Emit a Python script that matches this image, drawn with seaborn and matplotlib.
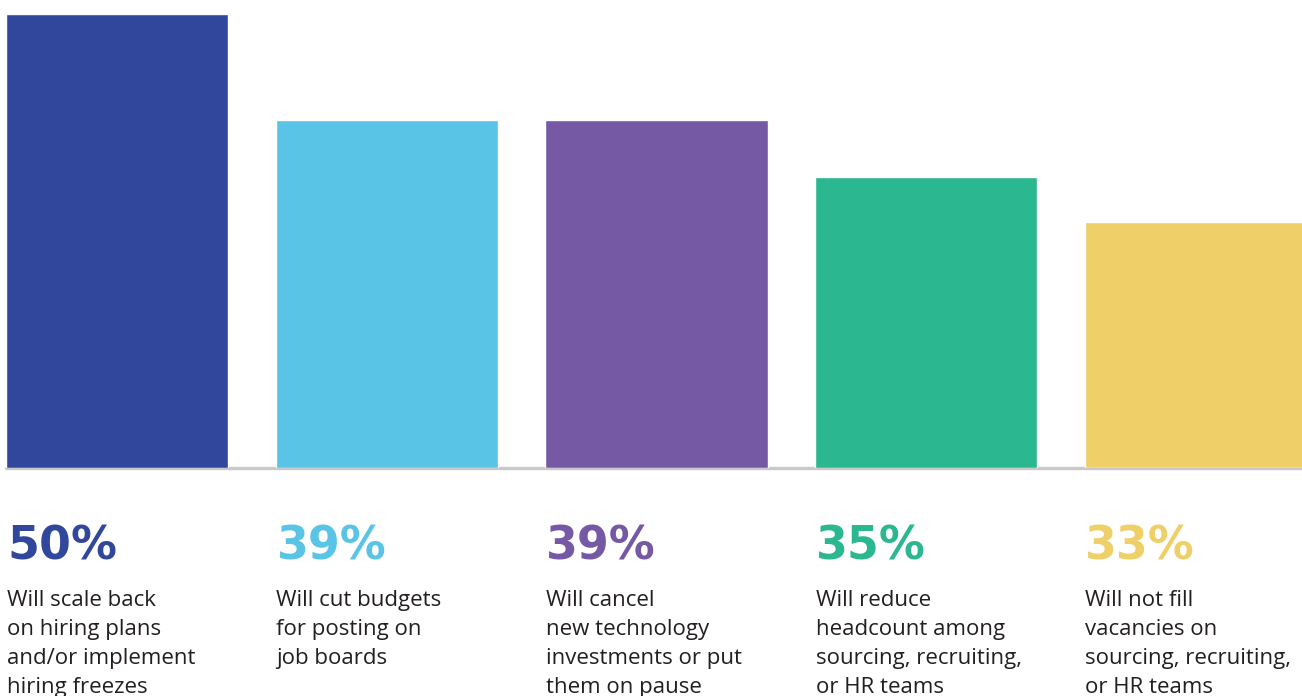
import matplotlib
matplotlib.use('Agg')
import matplotlib.pyplot as plt
import pandas as pd
import seaborn as sns

# values shown in the labels
pct_labels = ['50%', '39%', '39%', '35%', '33%']
# bar heights as drawn in the picture (not proportional to the labels)
bar_heights = [50, 38.3, 38.3, 32.0, 27.1]
descriptions = [
    'Will scale back\non hiring plans\nand/or implement\nhiring freezes',
    'Will cut budgets\nfor posting on\njob boards',
    'Will cancel\nnew technology\ninvestments or put\nthem on pause',
    'Will reduce\nheadcount among\nsourcing, recruiting,\nor HR teams',
    'Will not fill\nvacancies on\nsourcing, recruiting,\nor HR teams',
]
colors = ['#30479c', '#59c4e5', '#7559a5', '#2bb78f', '#efcf68']

df = pd.DataFrame({'cat': [str(i) for i in range(5)], 'height': bar_heights})

sns.set_style('white')
plt.rcParams['font.family'] = ['Open Sans', 'DejaVu Sans']

W, H = 1302, 696
fig = plt.figure(figsize=(W / 100, H / 100), dpi=100)
ax = fig.add_axes([6 / W, 1 - 468 / H, (W - 6) / W, 468 / H])

sns.barplot(data=df, x='cat', y='height', hue='cat', palette=colors,
            width=0.824, legend=False, ax=ax, saturation=1)
ax.set_xlim(-0.412, 4.393)
ax.set_ylim(0, 50 * 468 / 454)
ax.axis('off')
ax.axhline(0, color='#c8c9cd', linewidth=2.4, clip_on=False, zorder=0)

for i in range(5):
    x_px = 7 + i * 269.5
    fig.text(x_px / W, 1 - 560 / H, pct_labels[i], color=colors[i],
             fontsize=33, fontweight='bold', family='DejaVu Sans',
             va='baseline', ha='left')
    fig.text(x_px / W, 1 - 590 / H, descriptions[i], color='#231f20',
             fontsize=16, fontweight='medium', va='top', ha='left',
             linespacing=1.49)

fig.savefig('out.png', dpi=100)
